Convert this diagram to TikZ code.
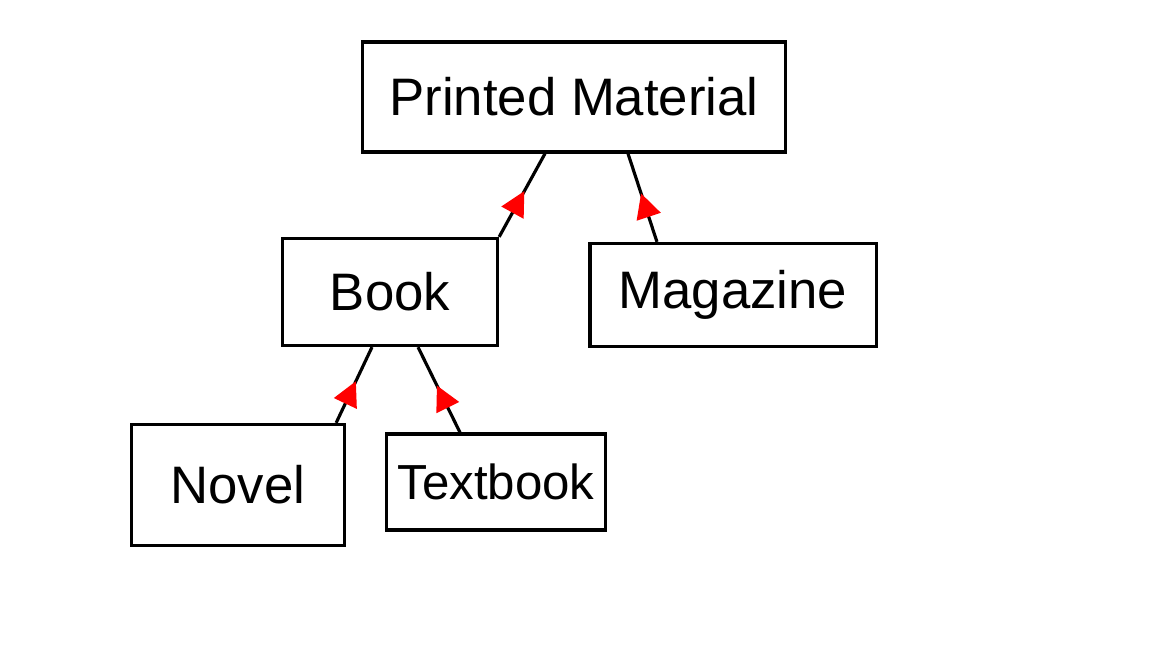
\documentclass[tikz,border=0pt]{standalone}
\usepackage{fontspec}
\setmainfont{Liberation Sans}
\usetikzlibrary{arrows.meta,decorations.markings}

\tikzset{
  cls/.style={draw, line width=0.9pt, inner sep=0pt, font=\fontsize{15}{17}\selectfont},
  inherit/.style={line width=0.9pt, postaction={decorate},
    decoration={markings, mark=at position 0.55 with {\arrow[red]{Triangle[length=7pt,width=7pt]}}}}
}

\begin{document}
\begin{tikzpicture}[x=0.01cm, y=-0.01cm]
	    \useasboundingbox (0,0) rectangle (1152,648);

	    \node[cls, minimum width=4.22cm, minimum height=1.1cm] (material) at (574,97) {Printed Material};
	    \node[cls, minimum width=2.15cm, minimum height=1.07cm] (book) at (390,292) {Book};
	    \node[cls, minimum width=2.86cm, minimum height=1.03cm] (magazine) at (733,295) {Magazine};
	    \node[cls, minimum width=2.13cm, minimum height=1.21cm] (novel) at (238,485) {Novel};
	    \node[cls, minimum width=2.19cm, minimum height=0.96cm, font=\fontsize{14}{16}\selectfont] (textbook) at (496,482) {Textbook};

	    \draw[inherit] (book.north east) -- ([xshift=-0.29cm]material.south);
	    \draw[inherit] ([xshift=-0.76cm]magazine.north) -- ([xshift=0.54cm]material.south);
	    \draw[inherit] ([xshift=-0.1cm]novel.north east) -- ([xshift=-0.18cm]book.south);
	    \draw[inherit] ([xshift=-0.36cm]textbook.north) -- ([xshift=0.28cm]book.south);
	\end{tikzpicture}
\end{document}
